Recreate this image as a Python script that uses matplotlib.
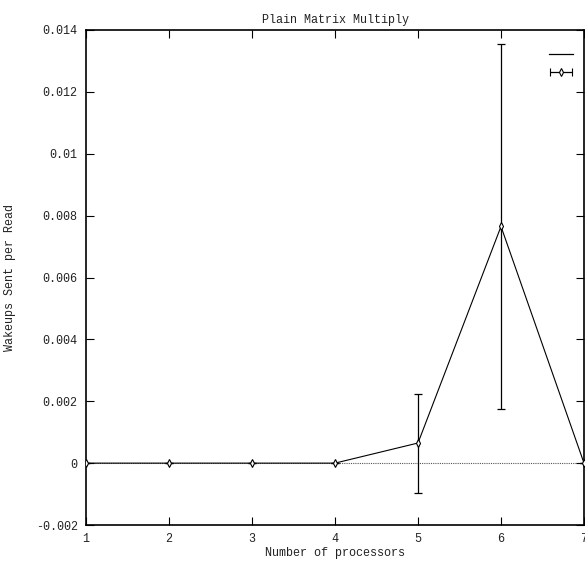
import matplotlib
matplotlib.use("Agg")
import matplotlib.pyplot as plt
from matplotlib.lines import Line2D
from matplotlib.container import ErrorbarContainer
from matplotlib.legend_handler import HandlerErrorbar

# data
procs = [1, 2, 3, 4, 5, 6, 7]
wakeups = [0.0, 0.0, 0.0, 0.0, 0.00065, 0.00765, 0.0]
errs = [0.0, 0.0, 0.0, 0.0, 0.0016, 0.0059, 0.0]
yticks = [-0.002, 0, 0.002, 0.004, 0.006, 0.008, 0.01, 0.012, 0.014]
ytick_labels = ["-0.002", "0", "0.002", "0.004", "0.006", "0.008", "0.01", "0.012", "0.014"]

plt.rcParams['font.family'] = ['Liberation Mono', 'DejaVu Sans Mono']
txt = '#222222'

fig = plt.figure(figsize=(5.85, 5.69), dpi=100)
ax = fig.add_axes([86 / 585, 44 / 569, 498 / 585, 495 / 569])

ax.axhline(0, color='#555555', lw=0.8, ls=(0, (1, 1)), zorder=1)
ax.plot(procs, wakeups, color='black', lw=0.8, zorder=3)
ax.errorbar(procs, wakeups, yerr=errs, fmt='none', ecolor='black',
            elinewidth=0.9, capsize=3, capthick=0.9, zorder=3)
ax.plot(procs, wakeups, ls='none', marker='d', ms=4, mfc='white',
        mec='black', mew=0.8, zorder=4)

# dummy handle for the legend (off-screen)
h2 = ax.errorbar([-10], [0], xerr=[1], fmt='d', color='black', ms=4,
                 mfc='white', mew=0.8, elinewidth=0.9, capsize=3)
h1 = Line2D([], [], color='black', lw=0.9)

ax.set_xlim(1, 7)
ax.set_ylim(-0.002, 0.014)
ax.set_xticks(procs)
ax.set_yticks(yticks)
ax.set_yticklabels(ytick_labels)
ax.tick_params(direction='in', top=True, right=True, length=6, width=0.8,
               labelsize=8.5, pad=6, labelcolor=txt)
for s in ax.spines.values():
    s.set_linewidth(1.2)

ax.set_title("Plain Matrix Multiply", fontsize=8.5, pad=5, color=txt)
ax.set_xlabel("Number of processors", fontsize=8.5, labelpad=1, color=txt)
ax.set_ylabel("Wakeups Sent per Read", fontsize=8.5, labelpad=14, color=txt)

ax.legend([h1, h2], ["", ""], loc='upper right', frameon=False,
          bbox_to_anchor=(0.987, 0.971), borderaxespad=0,
          handlelength=2.0, labelspacing=0.55,
          handletextpad=0, fontsize=8.5,
          handler_map={ErrorbarContainer: HandlerErrorbar(xerr_size=0.95)})

fig.savefig("out.png", dpi=100)
